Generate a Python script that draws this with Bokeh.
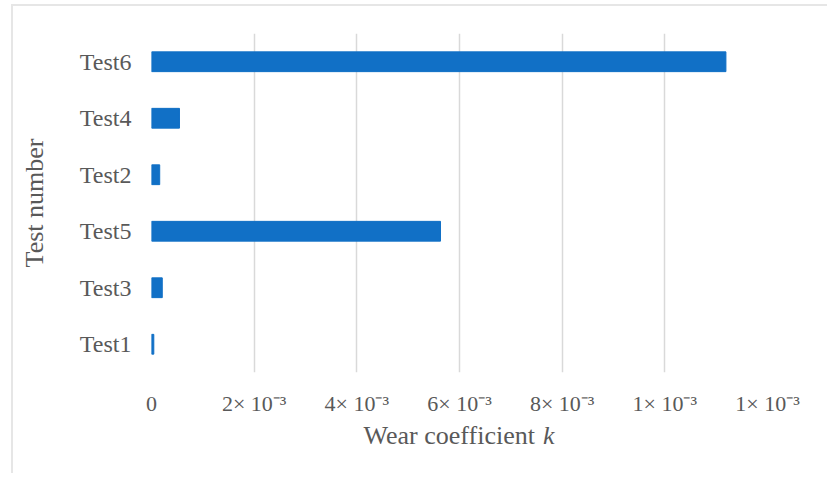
from bokeh.plotting import figure
from bokeh.layouts import column
from bokeh.models import FixedTicker, Range1d
from bokeh.core.properties import value
from bokeh.embed import file_html
from bokeh.resources import INLINE

# ---- data ----
tests = ["Test1", "Test3", "Test5", "Test2", "Test4", "Test6"]
wear_k = [4.5e-5, 2.1e-4, 5.63e-3, 1.6e-4, 5.45e-4, 1.119e-2]
tick_values = [0, 0.002, 0.004, 0.006, 0.008, 0.010, 0.012]
tick_labels = ["0", "2× 10⁻³", "4× 10⁻³", "6× 10⁻³", "8× 10⁻³", "1× 10⁻³", "1× 10⁻³"]
x_title = "Wear coefficient"
x_title_var = "k"
y_title = "Test number"

FONT = "Liberation Serif"
GRAY = "#595959"
X_MAX = 0.012

p = figure(width=814, height=412, y_range=tests, x_range=Range1d(0, X_MAX),
           output_backend="svg", toolbar_location=None,
           min_border_left=138, min_border_right=60,
           min_border_top=27, min_border_bottom=45)

p.hbar(y=tests, right=wear_k, left=0, height=0.35, color="#1170C6")

p.outline_line_color = None
p.background_fill_color = "white"
p.border_fill_color = "white"

p.xgrid.grid_line_color = "#d9d9d9"
p.xgrid.grid_line_width = 1.5
p.ygrid.grid_line_color = None

p.xaxis.ticker = FixedTicker(ticks=tick_values)
p.xaxis.major_label_overrides = {v: l for v, l in zip(tick_values, tick_labels)}
for ax in (p.xaxis, p.yaxis):
    ax.axis_line_color = None
    ax.major_tick_line_color = None
    ax.minor_tick_line_color = None
    ax.major_label_text_font = FONT
    ax.major_label_text_color = GRAY
p.yaxis.major_label_text_font_size = "24px"
p.xaxis.major_label_text_font_size = "22px"
p.xaxis.major_label_standoff = 12
p.yaxis.major_label_standoff = 14

p.yaxis.axis_label = y_title
p.yaxis.axis_label_text_font = FONT
p.yaxis.axis_label_text_font_style = "normal"
p.yaxis.axis_label_text_font_size = "26px"
p.yaxis.axis_label_text_color = GRAY
p.yaxis.axis_label_standoff = 28

# ---- x-axis title strip (so that "k" can be italic) ----
t = figure(width=814, height=55, x_range=Range1d(0, X_MAX), y_range=Range1d(0, 1),
           output_backend="svg", toolbar_location=None,
           x_axis_location=None, y_axis_location=None,
           min_border_left=138, min_border_right=60, min_border_top=0, min_border_bottom=0)
t.outline_line_color = None
t.xgrid.grid_line_color = None
t.ygrid.grid_line_color = None
split = X_MAX * 0.635
t.text(x=[split - X_MAX * 0.0125], y=[0.69], text=[x_title], text_align="right",
       text_baseline="middle", text_font=value(FONT), text_font_size="26px",
       text_color=GRAY)
t.text(x=[split + X_MAX * 0.0005], y=[0.69], text=[x_title_var], text_align="left",
       text_baseline="middle", text_font=value(FONT), text_font_size="26px",
       text_font_style="italic", text_color=GRAY)

layout = column(p, t, spacing=0)
layout.styles = {"margin-left": "11px", "margin-top": "4px",
                 "border-left": "2px solid #e6e6e6", "border-top": "2px solid #e6e6e6"}

open("out.html", "w").write(file_html(layout, INLINE))
